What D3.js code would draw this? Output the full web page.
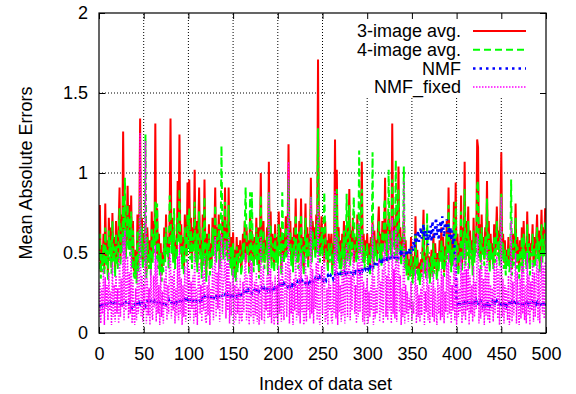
<!DOCTYPE html>
<html><head><meta charset="utf-8">
<script src="https://cdn.jsdelivr.net/npm/d3@7"></script>
<style>html,body{margin:0;padding:0;background:#fff}svg{display:block;font-family:"Liberation Sans",Arial,sans-serif}</style>
</head><body><svg id="c" width="576" height="394"></svg>
<script>
const xTicks=[0,50,100,150,200,250,300,350,400,450,500];
const yTicks=[0,0.5,1,1.5,2];
const yTickLabels=["0","0.5","1","1.5","2"];
const seriesNames=["3-image avg.","4-image avg.","NMF","NMF_fixed"];
const xLabel="Index of data set";
const yLabel="Mean Absolute Errors";

const avg3=[
0.45,0.80,0.38,0.55,0.42,0.62,0.40,0.81,0.47,0.58,
0.36,0.72,0.50,0.66,0.41,0.75,0.48,0.60,0.39,0.70,
0.52,0.44,0.68,0.91,0.46,0.74,0.55,1.26,0.60,0.78,
0.50,0.66,0.92,0.58,0.80,0.52,0.86,0.45,0.70,0.40,
0.38,0.52,0.34,0.74,0.42,0.60,1.34,0.50,0.72,0.44,
0.62,0.48,0.70,0.38,0.66,0.52,0.44,0.58,0.40,0.76,
0.48,0.70,0.55,1.31,0.50,0.78,0.45,0.62,0.40,0.56,
0.36,0.50,0.42,0.66,0.48,0.74,0.52,0.60,0.45,0.70,
1.34,0.55,0.72,0.48,0.66,0.44,0.58,0.50,0.95,0.62,
1.24,0.52,0.68,0.45,0.60,0.40,0.74,0.56,0.48,0.94,
0.58,0.96,0.50,0.72,0.44,0.66,0.55,1.02,0.48,0.70,
0.42,0.64,0.91,0.50,0.58,0.38,0.74,0.46,0.96,0.52,
0.36,0.62,0.48,0.68,0.40,0.56,0.44,0.72,0.52,0.60,
0.91,0.48,0.66,0.55,0.74,0.45,0.62,0.58,0.70,0.50,
0.64,0.91,0.52,0.68,0.48,0.91,0.56,0.44,0.60,0.40,
0.63,0.38,0.52,0.36,0.60,0.42,0.55,0.48,0.58,0.40,
0.46,0.62,0.50,0.70,0.44,0.66,0.52,0.58,0.40,0.74,
0.48,0.64,0.55,0.42,0.60,0.50,0.72,0.46,0.66,0.38,
0.56,1.00,0.48,0.62,0.70,0.44,0.58,0.52,0.66,0.40,
1.07,0.50,0.76,0.45,0.62,0.54,0.42,0.68,0.48,0.60,
0.44,0.76,0.52,0.66,0.40,0.58,0.62,0.48,0.55,0.73,
0.50,0.64,1.18,0.54,0.70,0.46,0.60,0.42,0.66,0.52,
0.84,0.48,0.62,0.44,0.70,0.52,0.84,0.46,0.60,0.40,
0.56,0.81,0.50,0.66,0.44,0.62,0.52,0.97,0.48,0.70,
0.58,0.66,0.50,0.74,0.56,1.71,0.62,0.48,0.60,0.73,
0.52,0.66,0.44,0.70,0.50,0.58,0.42,0.62,0.48,0.55,
0.62,0.40,0.56,0.46,1.21,0.52,1.02,0.48,0.66,0.44,
0.58,0.40,0.62,0.50,0.70,0.44,0.56,0.66,0.48,0.60,
0.90,0.46,0.64,0.52,0.72,0.44,0.60,0.56,0.48,0.74,
0.50,0.66,0.54,0.70,1.07,0.48,0.62,0.44,0.58,0.52,
0.62,0.46,0.56,0.40,0.60,0.50,0.70,0.44,0.64,0.52,
0.58,0.48,0.66,0.79,0.50,0.62,0.46,0.70,0.54,0.60,
0.97,0.52,0.68,0.48,0.74,0.56,0.64,0.50,1.31,0.58,
0.70,0.52,0.76,0.48,0.62,1.04,0.54,0.66,0.46,0.60,
0.52,0.72,0.44,0.58,0.40,0.50,0.36,0.46,0.38,0.60,
0.42,0.34,0.48,0.38,0.73,0.40,0.52,0.36,0.44,0.32,
0.46,0.38,0.55,0.77,0.40,0.50,0.36,0.58,0.42,0.48,
0.34,0.44,0.52,0.38,0.62,0.40,0.56,0.46,0.36,0.50,
0.42,0.58,0.48,0.66,0.44,0.60,0.38,0.54,0.46,0.70,
0.52,0.91,0.48,0.64,0.42,0.58,0.46,0.82,0.50,0.94,
0.44,0.62,0.40,0.56,0.48,0.86,0.42,0.66,0.52,1.07,
0.46,0.70,0.54,0.79,0.44,0.64,0.50,0.58,0.40,0.72,
0.48,0.62,0.56,1.21,1.16,0.50,0.68,0.44,0.74,0.52,
0.60,0.46,0.66,0.54,0.95,0.48,0.70,0.42,0.62,0.50,
0.56,0.44,0.68,0.48,0.60,0.79,0.52,0.64,0.46,0.72,
1.13,0.50,0.62,0.44,0.58,0.40,0.52,0.46,0.60,0.42,
0.48,0.56,0.40,0.62,0.46,0.54,0.81,0.44,0.60,0.50,
0.38,0.58,0.46,0.66,0.42,0.70,0.50,0.56,0.44,0.76,
0.48,0.62,0.40,0.56,0.52,0.68,0.44,0.60,0.46,0.58,
0.74,0.50,0.64,0.42,0.58,0.77,0.48,0.66,0.52,0.78];

const avg4=[
0.40,0.62,0.34,0.50,0.38,0.56,0.36,0.66,0.42,0.52,
0.33,0.64,0.45,0.58,0.37,0.70,0.44,0.54,0.35,0.62,
0.46,0.40,0.60,0.78,0.42,0.66,0.50,0.86,0.55,0.97,
0.46,0.60,0.80,0.52,0.72,0.48,0.76,0.40,0.64,0.36,
0.34,0.48,0.31,0.64,0.38,0.54,0.85,0.46,0.66,0.40,
0.56,0.44,1.24,0.34,0.60,0.48,0.40,0.52,0.36,0.66,
0.44,0.62,0.50,0.82,0.46,0.81,0.40,0.56,0.36,0.50,
0.32,0.46,0.38,0.60,0.44,0.66,0.48,0.54,0.40,0.86,
0.76,0.50,0.64,0.44,0.78,0.40,0.52,0.46,0.72,0.56,
0.90,0.48,0.62,0.40,0.54,0.36,0.66,0.50,0.44,0.74,
0.52,0.78,0.46,0.64,0.40,0.60,0.50,0.82,0.44,0.62,
0.38,0.58,0.76,0.46,0.52,0.34,0.66,0.42,0.85,0.48,
0.32,0.56,0.44,0.62,0.36,0.50,0.40,0.66,0.48,0.54,
0.80,0.44,0.60,0.50,0.68,0.40,0.56,1.17,0.62,0.46,
0.58,0.82,0.48,0.62,0.44,0.80,0.50,0.40,0.54,0.36,
0.56,0.34,0.48,0.32,0.54,0.38,0.50,0.44,0.52,0.36,
0.42,0.56,0.46,0.64,0.91,0.60,0.48,0.52,0.36,0.88,
0.44,0.88,0.50,0.38,0.56,0.46,0.66,0.42,0.60,0.34,
0.50,0.86,0.44,0.56,0.64,0.40,0.52,0.48,0.60,0.36,
0.88,0.46,0.68,0.40,0.56,0.50,0.38,0.62,0.44,0.54,
0.40,0.68,0.48,0.60,0.36,0.88,0.56,0.44,0.50,0.66,
0.46,0.58,0.96,0.50,0.64,0.42,0.54,0.38,0.60,0.48,
0.74,0.44,0.56,0.40,0.64,0.48,0.74,0.42,0.54,0.36,
0.50,0.72,0.46,0.60,0.40,0.56,0.48,0.86,0.44,0.64,
0.52,0.60,0.46,0.68,0.50,1.28,0.56,0.44,0.54,0.66,
0.48,0.60,0.88,0.64,0.46,0.52,0.38,0.56,0.44,0.50,
0.56,0.36,0.50,0.42,0.86,0.48,0.90,0.44,0.60,0.40,
0.52,0.36,0.56,0.46,0.64,0.40,0.50,0.87,0.44,0.54,
0.80,0.42,0.58,0.48,0.66,0.85,0.54,0.50,0.44,0.68,
0.46,1.14,0.50,0.64,0.90,0.44,0.56,0.40,0.52,0.48,
0.56,0.42,0.50,0.36,0.54,0.46,1.13,0.40,0.58,0.48,
0.52,0.44,0.60,0.70,0.46,0.56,0.42,0.64,0.50,0.80,
0.84,0.48,0.62,0.44,1.02,0.52,0.58,0.46,0.96,0.54,
0.64,0.48,1.08,0.44,0.56,0.90,0.50,0.60,0.42,0.54,
0.48,1.04,0.40,0.52,0.36,0.46,0.33,0.42,0.34,0.52,
0.38,0.31,0.44,0.35,0.62,0.37,0.48,0.33,0.40,0.30,
0.42,0.35,0.50,0.68,0.37,0.46,0.33,0.75,0.38,0.44,
0.31,0.40,0.48,0.35,0.56,0.37,0.50,0.42,0.33,0.46,
0.38,0.52,0.44,0.58,0.40,0.54,0.35,0.48,0.42,0.62,
0.46,0.80,0.44,0.58,0.38,0.52,0.42,0.72,0.46,0.82,
0.40,0.56,0.36,0.50,0.44,0.76,0.38,0.60,0.46,0.90,
0.42,0.62,0.48,0.70,0.40,0.58,0.46,0.52,0.36,0.64,
0.44,0.56,0.50,0.92,0.95,0.46,0.62,0.40,0.66,0.48,
0.54,0.42,0.60,0.48,0.84,0.44,0.62,0.38,0.56,0.46,
0.50,0.40,0.60,0.44,0.54,0.70,0.48,0.58,0.42,0.64,
0.87,0.46,0.56,0.40,0.52,0.36,0.48,0.42,0.54,0.38,
0.44,0.96,0.36,0.56,0.42,0.50,0.72,0.40,0.54,0.46,
0.34,0.52,0.42,0.60,0.38,0.62,0.46,0.50,0.40,0.68,
0.44,0.56,0.36,0.50,0.48,0.62,0.40,0.54,0.42,0.52,
0.66,0.46,0.58,0.38,0.52,0.68,0.44,0.60,0.48,0.70];

const nmf=[
0.18,0.17,0.19,0.18,0.17,0.18,0.19,0.17,0.18,0.19,
0.18,0.17,0.18,0.19,0.18,0.17,0.18,0.19,0.18,0.17,
0.18,0.19,0.18,0.17,0.18,0.19,0.20,0.18,0.17,0.18,
0.19,0.18,0.17,0.18,0.19,0.18,0.17,0.16,0.18,0.19,
0.18,0.19,0.20,0.18,0.17,0.19,0.18,0.19,0.20,0.18,
0.19,0.18,0.17,0.19,0.20,0.19,0.18,0.19,0.20,0.19,
0.18,0.19,0.20,0.19,0.18,0.20,0.19,0.18,0.19,0.20,
0.19,0.18,0.19,0.20,0.19,0.18,0.19,0.20,0.21,0.19,
0.20,0.19,0.18,0.20,0.19,0.20,0.21,0.19,0.20,0.21,
0.20,0.19,0.21,0.20,0.19,0.20,0.21,0.20,0.19,0.21,
0.20,0.21,0.20,0.22,0.21,0.20,0.21,0.22,0.21,0.20,
0.21,0.22,0.21,0.20,0.22,0.21,0.22,0.21,0.23,0.22,
0.21,0.22,0.23,0.22,0.21,0.22,0.23,0.22,0.21,0.23,
0.22,0.23,0.22,0.24,0.23,0.22,0.23,0.24,0.23,0.22,
0.23,0.24,0.23,0.22,0.24,0.23,0.24,0.23,0.25,0.24,
0.23,0.24,0.25,0.24,0.23,0.25,0.24,0.25,0.26,0.24,
0.25,0.24,0.26,0.25,0.24,0.26,0.25,0.27,0.26,0.25,
0.26,0.25,0.27,0.26,0.27,0.26,0.25,0.27,0.28,0.26,
0.27,0.26,0.28,0.27,0.26,0.28,0.27,0.28,0.27,0.29,
0.28,0.27,0.29,0.28,0.27,0.29,0.28,0.29,0.30,0.28,
0.29,0.28,0.30,0.29,0.28,0.30,0.29,0.31,0.30,0.29,
0.30,0.29,0.31,0.30,0.29,0.31,0.30,0.32,0.31,0.30,
0.31,0.30,0.32,0.31,0.30,0.32,0.31,0.33,0.32,0.31,
0.32,0.31,0.33,0.32,0.31,0.33,0.32,0.34,0.33,0.32,
0.33,0.32,0.34,0.33,0.32,0.34,0.33,0.35,0.34,0.33,
0.34,0.33,0.35,0.34,0.33,0.35,0.36,0.34,0.35,0.36,
0.35,0.36,0.34,0.36,0.37,0.35,0.36,0.37,0.36,0.35,
0.37,0.36,0.38,0.37,0.36,0.38,0.37,0.39,0.38,0.37,
0.38,0.37,0.39,0.38,0.37,0.39,0.40,0.38,0.39,0.40,
0.39,0.40,0.38,0.40,0.41,0.39,0.40,0.41,0.40,0.42,
0.41,0.40,0.42,0.41,0.43,0.42,0.41,0.43,0.42,0.44,
0.43,0.42,0.44,0.43,0.45,0.44,0.43,0.45,0.44,0.46,
0.45,0.44,0.46,0.45,0.47,0.46,0.45,0.47,0.48,0.46,
0.47,0.48,0.46,0.49,0.48,0.47,0.49,0.50,0.48,0.50,
0.49,0.47,0.51,0.50,0.48,0.52,0.50,0.53,0.49,0.52,
0.54,0.51,0.58,0.53,0.62,0.56,0.60,0.64,0.57,0.61,
0.66,0.59,0.63,0.68,0.60,0.65,0.58,0.62,0.55,0.64,
0.60,0.67,0.57,0.70,0.63,0.59,0.66,0.72,0.61,0.68,
0.58,0.64,0.70,0.62,0.73,0.66,0.60,0.69,0.65,0.71,
0.63,0.68,0.60,0.66,0.58,0.64,0.55,0.62,0.50,0.44,
0.20,0.18,0.19,0.17,0.18,0.20,0.19,0.18,0.17,0.19,
0.18,0.17,0.19,0.18,0.20,0.17,0.18,0.19,0.18,0.17,
0.19,0.18,0.20,0.18,0.17,0.19,0.18,0.20,0.19,0.17,
0.18,0.19,0.17,0.18,0.20,0.18,0.19,0.17,0.18,0.19,
0.20,0.18,0.17,0.19,0.18,0.20,0.19,0.17,0.18,0.16,
0.18,0.19,0.17,0.20,0.18,0.19,0.17,0.18,0.20,0.19,
0.18,0.17,0.19,0.18,0.20,0.17,0.18,0.19,0.17,0.18,
0.20,0.19,0.18,0.17,0.19,0.18,0.20,0.18,0.17,0.19,
0.18,0.20,0.19,0.17,0.18,0.19,0.17,0.18,0.20,0.18,
0.19,0.17,0.18,0.20,0.18,0.17,0.19,0.18,0.16,0.19];

const nmfFixed=[
0.10,0.32,0.06,0.28,0.12,0.40,0.05,0.35,0.15,0.30,
0.08,0.38,0.14,0.26,0.05,0.44,0.10,0.30,0.07,0.36,
0.12,0.28,0.06,0.50,0.10,0.34,0.16,0.60,0.08,0.64,
0.14,0.30,0.48,0.09,0.38,0.12,0.52,0.06,0.33,0.10,
0.05,0.28,0.08,0.40,0.12,0.26,1.25,0.10,0.36,0.07,
0.30,0.14,1.20,0.06,0.34,0.11,0.28,0.05,0.40,0.13,
0.08,0.36,0.16,0.55,0.07,0.46,0.12,0.30,0.05,0.38,
0.10,0.26,0.06,0.34,0.15,0.42,0.08,0.30,0.12,0.50,
0.45,0.09,0.36,0.14,0.40,0.06,0.28,0.11,0.48,0.08,
0.55,0.12,0.34,0.05,0.30,0.10,0.42,0.07,0.26,0.46,
0.12,0.40,0.08,0.32,0.15,0.36,0.06,0.50,0.10,0.28,
0.05,0.34,0.44,0.12,0.30,0.07,0.38,0.14,0.48,0.09,
0.06,0.30,0.11,0.36,0.05,0.28,0.13,0.42,0.08,0.34,
0.60,0.10,0.38,0.15,0.46,0.07,0.40,0.62,0.12,0.30,
0.36,0.58,0.09,0.44,0.14,0.60,0.06,0.32,0.11,0.26,
0.40,0.05,0.30,0.08,0.36,0.12,0.28,0.06,0.34,0.10,
0.07,0.32,0.13,0.40,0.50,0.08,0.36,0.15,0.05,0.46,
0.10,0.44,0.14,0.06,0.32,0.11,0.38,0.07,0.30,0.05,
0.12,0.60,0.08,0.34,0.42,0.06,0.28,0.14,0.36,0.09,
0.88,0.10,0.40,0.06,0.32,0.13,0.05,0.36,0.09,0.30,
0.05,0.42,0.12,0.34,0.07,0.50,0.15,0.08,0.30,0.44,
0.10,0.36,1.07,0.06,0.40,0.12,0.28,0.05,0.34,0.14,
0.52,0.08,0.30,0.11,0.44,0.06,0.50,0.13,0.32,0.05,
0.10,0.48,0.07,0.36,0.14,0.30,0.09,0.85,0.12,0.40,
0.06,0.34,0.15,0.44,0.08,0.80,0.11,0.05,0.30,0.42,
0.12,0.36,0.50,0.07,0.10,0.28,0.05,0.34,0.14,0.30,
0.08,0.06,0.32,0.12,0.89,0.09,0.60,0.05,0.36,0.13,
0.30,0.07,0.40,0.11,0.46,0.06,0.28,0.55,0.10,0.34,
0.50,0.08,0.36,0.14,0.42,0.52,0.12,0.30,0.06,0.44,
0.10,0.70,0.13,0.38,0.62,0.07,0.32,0.05,0.28,0.11,
0.34,0.06,0.26,0.10,0.30,0.14,0.68,0.05,0.36,0.09,
0.28,0.12,0.38,0.46,0.07,0.32,0.13,0.40,0.06,0.52,
0.56,0.10,0.36,0.08,0.62,0.14,0.34,0.06,0.72,0.12,
0.40,0.09,0.66,0.07,0.30,0.60,0.13,0.36,0.05,0.28,
0.10,0.95,0.06,0.30,0.12,0.26,0.07,0.22,0.15,0.32,
0.08,0.20,0.12,0.26,0.40,0.06,0.30,0.10,0.24,0.07,
0.28,0.11,0.34,0.44,0.05,0.26,0.13,0.46,0.08,0.30,
0.06,0.22,0.32,0.10,0.38,0.07,0.28,0.14,0.05,0.34,
0.12,0.30,0.08,0.40,0.10,0.36,0.06,0.26,0.13,0.44,
0.09,0.50,0.12,0.36,0.06,0.30,0.14,0.46,0.08,0.52,
0.05,0.34,0.10,0.28,0.13,0.48,0.06,0.38,0.11,0.56,
0.08,0.40,0.14,0.44,0.05,0.36,0.12,0.30,0.07,0.42,
0.10,0.32,0.15,0.58,0.62,0.06,0.40,0.09,0.46,0.13,
0.34,0.05,0.42,0.11,0.54,0.08,0.38,0.06,0.30,0.14,
0.28,0.07,0.44,0.12,0.36,0.48,0.09,0.40,0.05,0.46,
0.85,0.10,0.34,0.06,0.30,0.13,0.28,0.08,0.36,0.05,
0.12,0.70,0.07,0.32,0.11,0.30,0.50,0.06,0.38,0.14,
0.05,0.34,0.09,0.42,0.12,0.46,0.08,0.30,0.06,0.50,
0.11,0.36,0.05,0.32,0.14,0.44,0.07,0.38,0.10,0.34,
0.46,0.08,0.40,0.06,0.30,0.48,0.12,0.42,0.09,0.44];

const seriesValues=[avg3,avg4,nmf,nmfFixed];
const colors=["#ff0000","#00ff00","#0000ff","#ff00ff"];
const widths=[2,2,2.5,1.5];
const dashes=[null,"7,4","2.5,4","1.5,1.5"];

const svg=d3.select("#c");
const L=99,R=546,T=13,B=333;
const x=d3.scaleLinear().domain([0,500]).range([L,R]);
const y=d3.scaleLinear().domain([0,2]).range([B,T]);

// grid
const grid=svg.append("g").attr("stroke","#000").attr("stroke-width",1).attr("stroke-dasharray","1,2");
xTicks.slice(1,-1).forEach(t=>grid.append("line").attr("x1",x(t)).attr("x2",x(t)).attr("y1",B).attr("y2",T));
yTicks.slice(1,-1).forEach(t=>grid.append("line").attr("x1",L).attr("x2",R).attr("y1",y(t)).attr("y2",y(t)));

// series
svg.append("clipPath").attr("id","pc").append("rect").attr("x",L).attr("y",T).attr("width",R-L).attr("height",B-T);
const line=d3.line().x((d,i)=>x(i)).y(d=>y(d));
seriesValues.forEach((vals,k)=>{
  svg.append("path").datum(vals).attr("clip-path","url(#pc)")
    .attr("fill","none").attr("stroke",colors[k]).attr("stroke-width",widths[k])
    .attr("stroke-dasharray",dashes[k]).attr("stroke-linejoin","miter").attr("d",line);
});

// key background
svg.append("rect").attr("x",327).attr("y",T+1).attr("width",R-327-1).attr("height",96-T).attr("fill","#fff");

// axes with inward ticks on all sides
const ax=svg.append("g");
const xb=d3.axisBottom(x).tickValues(xTicks).tickSize(-6).tickPadding(14).tickFormat(d3.format("d"));
ax.append("g").attr("transform",`translate(0,${B})`).call(xb);
ax.append("g").attr("transform",`translate(0,${T})`).call(d3.axisTop(x).tickValues(xTicks).tickSize(-6).tickFormat(""));
const yl=d3.axisLeft(y).tickValues(yTicks).tickSize(-6).tickPadding(11).tickFormat((d,i)=>yTickLabels[i]);
ax.append("g").attr("transform",`translate(${L},0)`).call(yl);
ax.append("g").attr("transform",`translate(${R},0)`).call(d3.axisRight(y).tickValues(yTicks).tickSize(-6).tickFormat(""));
ax.selectAll(".domain").remove();
ax.selectAll("line").attr("stroke","#000").attr("stroke-width",1);
ax.selectAll("text").attr("font-family","Liberation Sans, Arial, sans-serif").attr("font-size",18).attr("fill","#000");
svg.append("rect").attr("x",L).attr("y",T).attr("width",R-L).attr("height",B-T).attr("fill","none").attr("stroke","#000").attr("stroke-width",1.2);

// labels
svg.append("text").attr("x",(L+R)/2+3).attr("y",390).attr("text-anchor","middle").attr("font-size",18).text(xLabel);
svg.append("text").attr("transform",`translate(32,${(T+B)/2}) rotate(-90)`).attr("text-anchor","middle").attr("font-size",18).text(yLabel);

// legend
const rows=[31,49.7,68.4,87.1];
seriesNames.forEach((n,k)=>{
  svg.append("text").attr("x",461).attr("y",rows[k]).attr("dy","0.35em").attr("text-anchor","end").attr("font-size",18).text(n);
  svg.append("line").attr("x1",473).attr("x2",526).attr("y1",rows[k]).attr("y2",rows[k])
    .attr("stroke",colors[k]).attr("stroke-width",widths[k]).attr("stroke-dasharray",dashes[k]);
});
</script></body></html>
